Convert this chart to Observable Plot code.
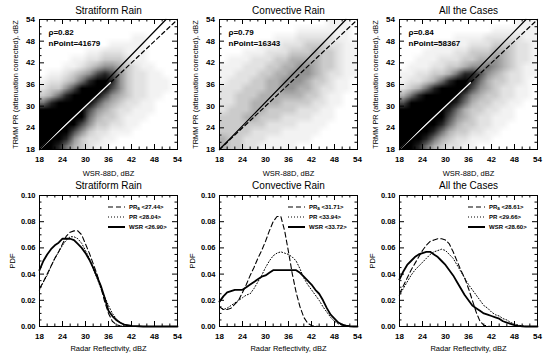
<!DOCTYPE html>
<html><head><meta charset="utf-8">
<script src="https://cdn.jsdelivr.net/npm/d3@7"></script>
<script src="https://cdn.jsdelivr.net/npm/@observablehq/plot@0.6"></script>
<style>
body{margin:0;background:#fff;}
#wrap{position:relative;width:550px;height:359px;overflow:hidden;background:#fff;}
#wrap svg{position:absolute;}
</style></head><body><div id="wrap"></div>
<script>
const FONT = '"Liberation Sans", Arial, Helvetica, sans-serif';

// ---------- data ----------
const titles = ["Stratiform Rain", "Convective Rain", "All the Cases"];
const rhoValues = ["0.82", "0.79", "0.84"];
const nPoints = ["41679", "16343", "58367"];

const majorTicks = [18, 24, 30, 36, 42, 48, 54];
const minorTicks = [20, 22, 26, 28, 32, 34, 38, 40, 44, 46, 50, 52];
const pdfMajor = [0, 0.02, 0.04, 0.06, 0.08, 0.10];
const pdfMinor = [0.005, 0.01, 0.015, 0.025, 0.03, 0.035, 0.045, 0.05, 0.055, 0.065, 0.07, 0.075, 0.085, 0.09, 0.095];

// fitted line and 1:1 line (dBZ)
const fitX = [18, 51];
const fitY = [18, 54];
const oneToOne = [18, 54];
const oneToOneWhite = [18, 36.5];

// density of the scatter clouds, 2-dBZ cells (columns WSR 18..54, rows PR 54 -> 18), 0 = empty, 9 = saturated
const stratGrid = [
"000000000000000000",
"000000000000000000",
"000000000000110000",
"000000000111110000",
"000000112221110000",
"000011223332110000",
"000112345543211000",
"011234578753221100",
"122346899853221110",
"233579999753221110",
"346899997543221100",
"689999975432211000",
"999999754322111000",
"999999643321110000",
"999997533221100000",
"999975322111000000",
"999853221100000000",
"998643211000000000"];
const convGrid = [
"000000000000001110",
"000000000011111110",
"000000011122222110",
"000001112223332211",
"000111222333433211",
"011122233444433211",
"111222334455433211",
"112223344555432211",
"122233445554332110",
"222333445544322110",
"223334444443321100",
"223344443333221100",
"233344333322211000",
"333443332222111000",
"333333222211110000",
"333322221111100000",
"433222111111000000",
"433221111100000000"];
const allGrid = [
"000000000000000111",
"000000000000111111",
"000000011112222211",
"000011111222333221",
"000111122333443221",
"001112223344543221",
"011122334556543211",
"112233468875432211",
"122346899864332210",
"234689999754322110",
"468999997543322110",
"799999986433221100",
"999999864332211000",
"999999754322111000",
"999998643322110000",
"999986433221100000",
"999864322111000000",
"998643221100000000"];

// grey tone for each density level 0..9
const densityLevels = [0, 1, 2, 3, 4, 5, 6, 7, 8, 9];
const densityTones = ["#ffffff", "#f2f2f2", "#e2e2e2", "#cbcbcb", "#b0b0b0", "#929292", "#727272", "#4d4d4d", "#262626", "#000000"];

// PDFs
const pdfX = [18,19,20,21,22,23,24,25,26,27,28,29,30,31,32,33,34,35,36,37,38,39,40,41,42,43,44,45,46,47,48,49,50,51,52,53,54];
const stratWSR = [0.043,0.050,0.055,0.059,0.062,0.064,0.067,0.067,0.067,0.066,0.063,0.060,0.056,0.051,0.045,0.038,0.031,0.022,0.012,0.008,0.005,0.003,0.0015,0.001,0.0005,0.0003,0.0002,0,0,0,0,0,0,0,0,0,0];
const stratPRa = [0.029,0.034,0.040,0.046,0.052,0.057,0.063,0.069,0.072,0.073,0.073,0.070,0.063,0.056,0.048,0.040,0.030,0.019,0.010,0.004,0.0015,0.0005,0,0,0,0,0,0,0,0,0,0,0,0,0,0,0];
const stratPR = [0.028,0.034,0.039,0.046,0.052,0.057,0.062,0.066,0.0685,0.0685,0.067,0.0635,0.058,0.052,0.044,0.037,0.029,0.0225,0.016,0.010,0.006,0.003,0.0013,0.0005,0.0002,0,0,0,0,0,0,0,0,0,0,0,0];
const convWSR = [0.019,0.023,0.026,0.027,0.028,0.028,0.028,0.030,0.032,0.034,0.036,0.038,0.039,0.041,0.043,0.043,0.043,0.043,0.043,0.043,0.043,0.041,0.038,0.035,0.032,0.028,0.025,0.020,0.014,0.009,0.006,0.003,0.0015,0.0006,0.0002,0,0];
const convPRa = [0.015,0.013,0.013,0.014,0.017,0.020,0.026,0.032,0.039,0.045,0.052,0.058,0.065,0.073,0.080,0.084,0.084,0.073,0.057,0.040,0.026,0.015,0.007,0.0025,0.0007,0.0002,0,0,0,0,0,0,0,0,0,0,0];
const convPR = [0.015,0.013,0.014,0.016,0.018,0.020,0.022,0.024,0.025,0.029,0.034,0.039,0.045,0.050,0.054,0.056,0.057,0.056,0.055,0.053,0.050,0.044,0.037,0.032,0.028,0.024,0.020,0.015,0.011,0.007,0.004,0.002,0.001,0.0003,0,0,0];
const allWSR = [0.036,0.042,0.047,0.050,0.053,0.055,0.056,0.057,0.057,0.055,0.053,0.050,0.047,0.043,0.039,0.034,0.029,0.024,0.020,0.016,0.014,0.012,0.010,0.009,0.008,0.007,0.006,0.004,0.003,0.002,0.001,0.0005,0.0002,0,0,0,0];
const allPRa = [0.025,0.031,0.037,0.043,0.048,0.053,0.058,0.062,0.065,0.066,0.067,0.067,0.066,0.063,0.057,0.050,0.043,0.037,0.029,0.020,0.011,0.004,0.001,0.0003,0,0,0,0,0,0,0,0,0,0,0,0,0];
const allPR = [0.024,0.029,0.034,0.039,0.043,0.046,0.049,0.052,0.055,0.057,0.058,0.059,0.058,0.055,0.052,0.047,0.042,0.037,0.032,0.028,0.024,0.020,0.016,0.014,0.011,0.009,0.008,0.006,0.005,0.003,0.002,0.001,0.0005,0,0,0,0];

const meansPRa = ["27.44", "31.71", "28.61"];
const meansPR = ["28.04", "33.94", "29.66"];
const meansWSR = ["26.90", "33.72", "28.60"];

const grids = [stratGrid, convGrid, allGrid];
const pdfSeries = [[stratPRa, stratPR, stratWSR], [convPRa, convPR, convWSR], [allPRa, allPR, allWSR]];

const wrap = document.getElementById("wrap");
const txt = (arr, o) => Plot.text(arr, {text: d => d, fontFamily: FONT, ...o});

function ticksMarks(xMaj, xMin, yMaj, yMin, FW, FH) {
  const s = {stroke: "black", strokeWidth: 1};
  return [
    Plot.tickX(xMaj, {x: d => d, insetTop: FH - 5, ...s}),
    Plot.tickX(xMaj, {x: d => d, insetBottom: FH - 5, ...s}),
    Plot.tickX(xMin, {x: d => d, insetTop: FH - 2.5, ...s}),
    Plot.tickX(xMin, {x: d => d, insetBottom: FH - 2.5, ...s}),
    Plot.tickY(yMaj, {y: d => d, insetRight: FW - 5, ...s}),
    Plot.tickY(yMaj, {y: d => d, insetLeft: FW - 5, ...s}),
    Plot.tickY(yMin, {y: d => d, insetRight: FW - 2.5, ...s}),
    Plot.tickY(yMin, {y: d => d, insetLeft: FW - 2.5, ...s})
  ];
}

function scatterPanel(c) {
  const W = 180, H = 180, mL = 39, mR = 3, mT = 19, mB = 31;
  const FW = W - mL - mR, FH = H - mT - mB;
  const values = grids[c].flatMap(r => Array.from(r, Number));
  const showWhite = c !== 1;
  const svg = Plot.plot({
    width: W, height: H, marginLeft: mL, marginRight: mR, marginTop: mT, marginBottom: mB,
    style: {fontFamily: FONT, fontSize: "8px", background: "transparent", overflow: "visible"},
    x: {domain: [18, 54], axis: null},
    y: {domain: [18, 54], axis: null},
    color: {type: "linear", domain: densityLevels, range: densityTones},
    marks: [
      Plot.raster(values, {width: 18, height: 18, x1: 18, x2: 54, y1: 54, y2: 18, fill: d => d}),
      Plot.line(oneToOne.map(v => [v, v]), {stroke: "black", strokeWidth: 1.2, strokeDasharray: "4,3"}),
      showWhite ? Plot.line(oneToOneWhite.map(v => [v, v]), {stroke: "white", strokeWidth: 1.2}) : null,
      Plot.line(fitX.map((x, i) => [x, fitY[i]]), {stroke: "black", strokeWidth: 1.2}),
      Plot.frame({stroke: "black", strokeWidth: 1}),
      ...ticksMarks(majorTicks, minorTicks, majorTicks, minorTicks, FW, FH),
      Plot.axisX(majorTicks, {tickSize: 0, tickPadding: 7, fontWeight: "bold", fontSize: 8, label: null, fontFamily: FONT}),
      Plot.axisY(majorTicks, {tickSize: 0, tickPadding: 4.5, fontWeight: "bold", fontSize: 8, label: null, fontFamily: FONT}),
      txt([titles[c]], {frameAnchor: "top", dy: -8.5, textAnchor: "middle", lineAnchor: "middle", fontSize: 10}),
      txt([`ρ=${rhoValues[c]}`], {frameAnchor: "top-left", dx: 9, dy: 13, textAnchor: "start", lineAnchor: "middle", fontSize: 8, fontWeight: "bold"}),
      txt([`nPoint=${nPoints[c]}`], {frameAnchor: "top-left", dx: 9, dy: 24, textAnchor: "start", lineAnchor: "middle", fontSize: 8, fontWeight: "bold"}),
      txt(["WSR-88D, dBZ"], {frameAnchor: "bottom", dy: 24, textAnchor: "middle", lineAnchor: "middle", fontSize: 7.5}),
      txt(["TRMM PR (attenuation corrected), dBZ"], {frameAnchor: "left", dx: -24, rotate: -90, textAnchor: "middle", lineAnchor: "middle", fontSize: 7.4})
    ]
  });
  svg.style.left = (c * 180) + "px";
  svg.style.top = "0px";
  wrap.appendChild(svg);
}

function pdfPanel(c) {
  const W = 180, H = 179, mL = 39, mR = 3, mT = 15, mB = 33;
  const FW = W - mL - mR, FH = H - mT - mB;
  const [pra, pr, wsr] = pdfSeries[c];
  const pts = s => pdfX.map((x, i) => [x, s[i]]);
  const svg = Plot.plot({
    width: W, height: H, marginLeft: mL, marginRight: mR, marginTop: mT, marginBottom: mB,
    style: {fontFamily: FONT, fontSize: "8px", background: "transparent", overflow: "visible"},
    x: {domain: [18, 54], axis: null},
    y: {domain: [0, 0.10], axis: null},
    marks: [
      Plot.line(pts(pr), {stroke: "black", strokeWidth: 1, strokeDasharray: "1,2"}),
      Plot.line(pts(pra), {stroke: "black", strokeWidth: 1.1, strokeDasharray: "5,3"}),
      Plot.line(pts(wsr), {stroke: "black", strokeWidth: 1.8}),
      Plot.frame({stroke: "black", strokeWidth: 1}),
      ...ticksMarks(majorTicks, minorTicks, pdfMajor, pdfMinor, FW, FH),
      Plot.axisX(majorTicks, {tickSize: 0, tickPadding: 7, fontWeight: "bold", fontSize: 8, label: null, fontFamily: FONT}),
      Plot.axisY(pdfMajor, {tickSize: 0, tickPadding: 4, tickFormat: d3.format(".2f"), fontWeight: "bold", fontSize: 7.5, label: null, fontFamily: FONT}),
      txt([titles[c]], {frameAnchor: "top", dy: -9.5, textAnchor: "middle", lineAnchor: "middle", fontSize: 10}),
      txt(["Radar Reflectivity, dBZ"], {frameAnchor: "bottom", dy: 22, textAnchor: "middle", lineAnchor: "middle", fontSize: 7.5}),
      txt(["PDF"], {frameAnchor: "left", dx: -27, rotate: -90, textAnchor: "middle", lineAnchor: "middle", fontSize: 7.5})
    ]
  });
  // legend
  const g = d3.select(svg).append("g")
    .attr("font-family", FONT).attr("font-size", 6).attr("font-weight", "bold")
    .attr("fill", "black").attr("text-anchor", "start");
  const entries = [
    {dash: "5,3", w: 1.1, label: "PR", sub: "a", mean: meansPRa[c]},
    {dash: "1,2", w: 1, label: "PR", sub: null, mean: meansPR[c]},
    {dash: null, w: 2, label: "WSR", sub: null, mean: meansWSR[c]}
  ];
  entries.forEach((e, i) => {
    const y = mT + 12 + i * 10;
    g.append("line").attr("x1", 108).attr("x2", 125).attr("y1", y).attr("y2", y)
      .attr("stroke", "black").attr("stroke-width", e.w).attr("stroke-dasharray", e.dash);
    const t = g.append("text").attr("x", 129).attr("y", y).attr("dy", "0.35em").attr("text-anchor", "start");
    t.append("tspan").text(e.label);
    if (e.sub) t.append("tspan").attr("font-size", 4.5).attr("dy", "0.3em").text(e.sub);
    t.append("tspan").attr("dy", e.sub ? "-0.3em" : null).text(` <${e.mean}>`);
  });
  svg.style.left = (c * 180) + "px";
  svg.style.top = "180px";
  wrap.appendChild(svg);
}

[0, 1, 2].forEach(scatterPanel);
[0, 1, 2].forEach(pdfPanel);
</script></body></html>
